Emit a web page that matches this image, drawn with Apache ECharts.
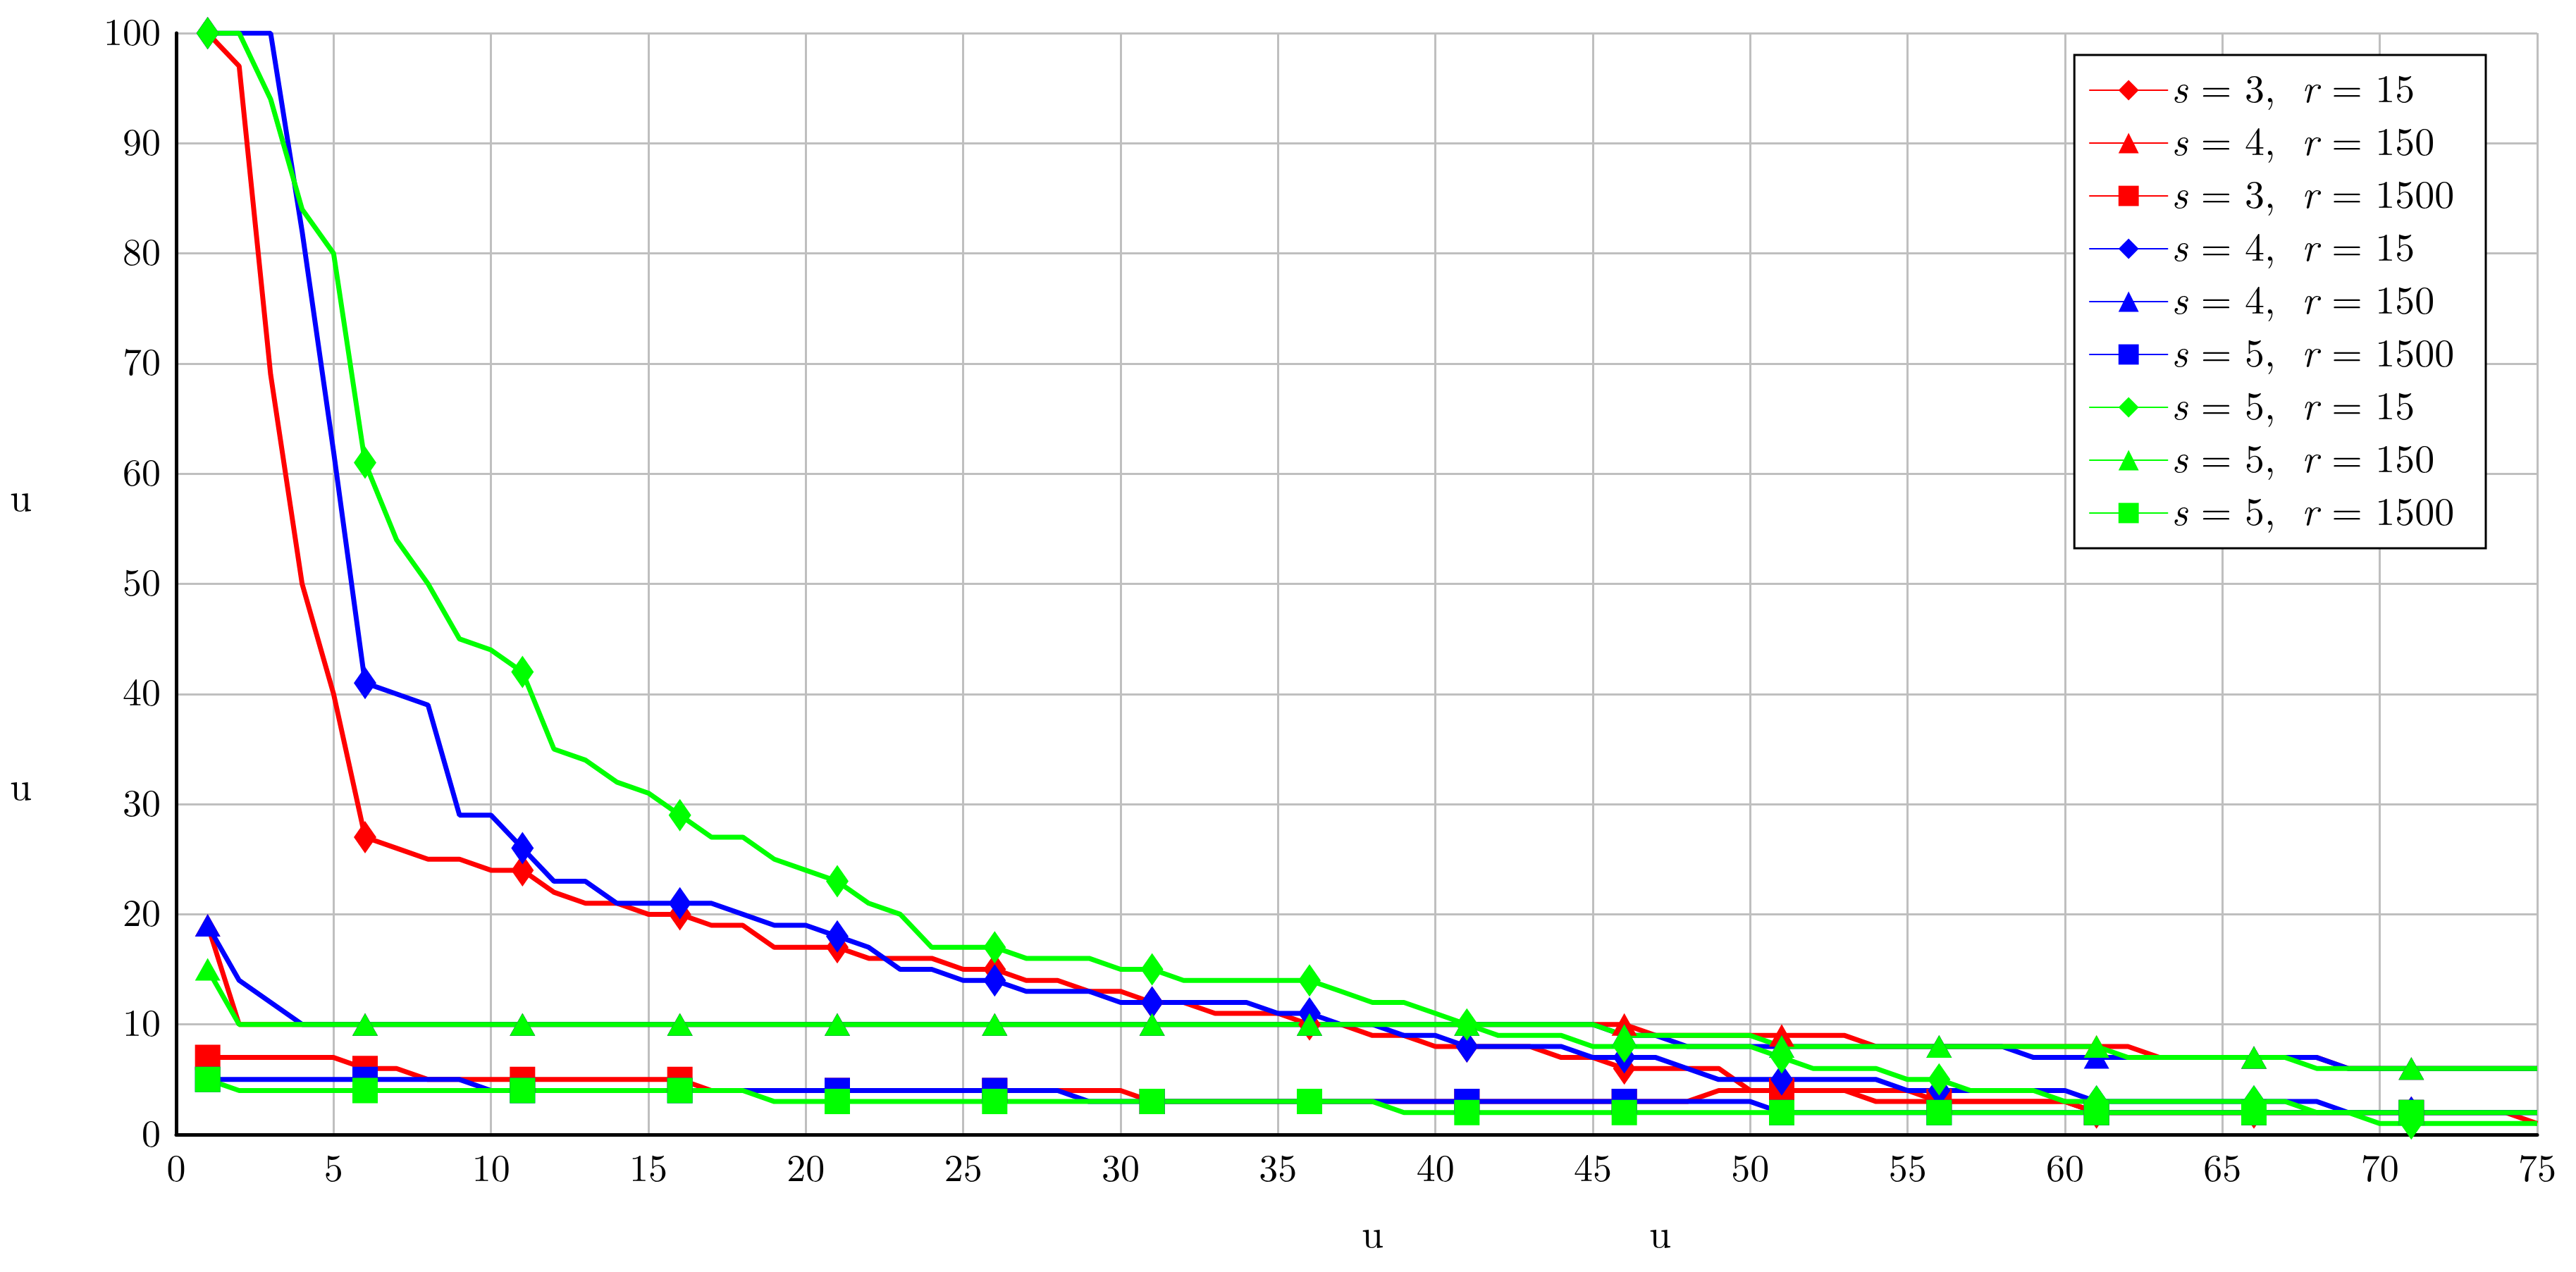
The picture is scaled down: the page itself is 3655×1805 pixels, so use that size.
<!DOCTYPE html>
<html><head><meta charset="utf-8">
<script src="https://cdn.jsdelivr.net/npm/echarts@6/dist/echarts.min.js"></script>
<style>html,body{margin:0;padding:0;background:#fff}#c{width:3655px;height:1805px}</style>
</head><body><div id="c"></div>
<script>
const xTicks = [0,5,10,15,20,25,30,35,40,45,50,55,60,65,70,75];
const yTicks = [0,10,20,30,40,50,60,70,80,90,100];
const s3r15 = [100,97,69,50,40,27,26,25,25,24,24,22,21,21,20,20,19,19,17,17,17,16,16,16,15,15,14,14,13,13,12,12,11,11,11,10,10,9,9,8,8,8,8,7,7,6,6,6,6,4,4,4,4,4,4,3,3,3,3,3,2,2,2,2,2,2,2,2,2,2,2,2,2,2,1];
const s4r150 = [19,10,10,10,10,10,10,10,10,10,10,10,10,10,10,10,10,10,10,10,10,10,10,10,10,10,10,10,10,10,10,10,10,10,10,10,10,10,10,10,10,10,10,10,10,10,9,9,9,9,9,9,9,8,8,8,8,8,8,8,8,8,7,7,7,7,7,7,6,6,6,6,6,6,6];
const s3r1500 = [7,7,7,7,7,6,6,5,5,5,5,5,5,5,5,5,4,4,4,4,4,4,4,4,4,4,4,4,4,4,3,3,3,3,3,3,3,3,3,3,3,3,3,3,3,3,3,3,4,4,4,4,4,3,3,3,3,3,3,3,2,2,2,2,2,2,2,2,2,2,2,2,2,2,2];
const s4r15 = [100,100,100,82,62,41,40,39,29,29,26,23,23,21,21,21,21,20,19,19,18,17,15,15,14,14,13,13,13,12,12,12,12,12,11,11,10,10,9,9,8,8,8,8,7,7,7,6,5,5,5,5,5,5,4,4,4,4,4,4,3,3,3,3,3,3,3,3,2,2,2,2,2,2,2];
const s4r150b = [19,14,12,10,10,10,10,10,10,10,10,10,10,10,10,10,10,10,10,10,10,10,10,10,10,10,10,10,10,10,10,10,10,10,10,10,10,10,10,10,10,10,10,10,10,9,9,8,8,8,8,8,8,8,8,8,8,8,7,7,7,7,7,7,7,7,7,7,6,6,6,6,6,6,6];
const s5r1500 = [5,5,5,5,5,5,5,5,5,4,4,4,4,4,4,4,4,4,4,4,4,4,4,4,4,4,4,4,3,3,3,3,3,3,3,3,3,3,3,3,3,3,3,3,3,3,3,3,3,3,2,2,2,2,2,2,2,2,2,2,2,2,2,2,2,2,2,2,2,2,2,2,2,2,2];
const s5r15 = [100,100,94,84,80,61,54,50,45,44,42,35,34,32,31,29,27,27,25,24,23,21,20,17,17,17,16,16,16,15,15,14,14,14,14,14,13,12,12,11,10,9,9,9,8,8,8,8,8,8,7,6,6,6,5,5,4,4,4,3,3,3,3,3,3,3,3,2,2,1,1,1,1,1,1];
const s5r150 = [15,10,10,10,10,10,10,10,10,10,10,10,10,10,10,10,10,10,10,10,10,10,10,10,10,10,10,10,10,10,10,10,10,10,10,10,10,10,10,10,10,10,10,10,10,9,9,9,9,9,8,8,8,8,8,8,8,8,8,8,8,7,7,7,7,7,7,6,6,6,6,6,6,6,6];
const s5r1500g = [5,4,4,4,4,4,4,4,4,4,4,4,4,4,4,4,4,4,3,3,3,3,3,3,3,3,3,3,3,3,3,3,3,3,3,3,3,3,2,2,2,2,2,2,2,2,2,2,2,2,2,2,2,2,2,2,2,2,2,2,2,2,2,2,2,2,2,2,2,2,2,2,2,2,2];

const defs = [
 ['{i|s} = 3,  {i|r} = 15', s3r15, '#ff0000', 'diamond'],
 ['{i|s} = 4,  {i|r} = 150', s4r150, '#ff0000', 'triangle'],
 ['{i|s} = 3,  {i|r} = 1500', s3r1500, '#ff0000', 'rect'],
 ['{i|s} = 4,  {i|r} = 15 ', s4r15, '#0000ff', 'diamond'],
 ['{i|s} = 4,  {i|r} = 150 ', s4r150b, '#0000ff', 'triangle'],
 ['{i|s} = 5,  {i|r} = 1500', s5r1500, '#0000ff', 'rect'],
 ['{i|s} = 5,  {i|r} = 15', s5r15, '#00ff00', 'diamond'],
 ['{i|s} = 5,  {i|r} = 150', s5r150, '#00ff00', 'triangle'],
 ['{i|s} = 5,  {i|r} = 1500 ', s5r1500g, '#00ff00', 'rect']
];
const sizes = {diamond:[32,46], triangle:[36,32], rect:[36,36]};
const font = 'Latin Modern Roman, DejaVu Serif, serif';
const chart = echarts.init(document.getElementById('c'));
chart.setOption({
 animation:false,
 grid:{left:250,right:55,top:47,bottom:195},
 xAxis:{type:'value',min:0,max:75,interval:5,
  axisLine:{lineStyle:{color:'#000',width:5}},axisTick:{show:false},
  axisLabel:{fontFamily:font,fontSize:54,color:'#000',margin:22},
  splitLine:{lineStyle:{color:'#bfbfbf',width:3}}},
 yAxis:{type:'value',min:0,max:100,interval:10,
  axisLine:{show:true,lineStyle:{color:'#000',width:5}},axisTick:{show:false},
  axisLabel:{fontFamily:font,fontSize:54,color:'#000',margin:22},
  splitLine:{lineStyle:{color:'#bfbfbf',width:3}}},
 legend:{orient:'vertical',right:128,top:78,padding:[22,26,22,20],
  borderColor:'#000',borderWidth:3,backgroundColor:'#fff',itemGap:19,itemWidth:112,itemHeight:36,
  formatter:n=>n,
  textStyle:{fontFamily:font,fontSize:56,color:'#000',rich:{i:{fontFamily:font,fontStyle:'italic',fontSize:56}}}},
 graphic:[
  {type:'text',left:14,top:680,style:{text:'u',font:'56px '+font,fill:'#000'}},
  {type:'text',left:14,top:1090,style:{text:'u',font:'56px '+font,fill:'#000'}},
  {type:'text',left:1932,top:1725,style:{text:'u',font:'56px '+font,fill:'#000'}},
  {type:'text',left:2340,top:1725,style:{text:'u',font:'56px '+font,fill:'#000'}}
 ],
 series: defs.map(d=>({
  name:d[0],type:'line',data:d[1].map((v,i)=>[i+1,v]),
  symbol:d[3],showAllSymbol:true,
  symbolSize:(v,p)=>p.dataIndex%5===0?sizes[d[3]]:0,
  lineStyle:{color:d[2],width:7},itemStyle:{color:d[2]},color:d[2],z:2
 }))
});
</script></body></html>
